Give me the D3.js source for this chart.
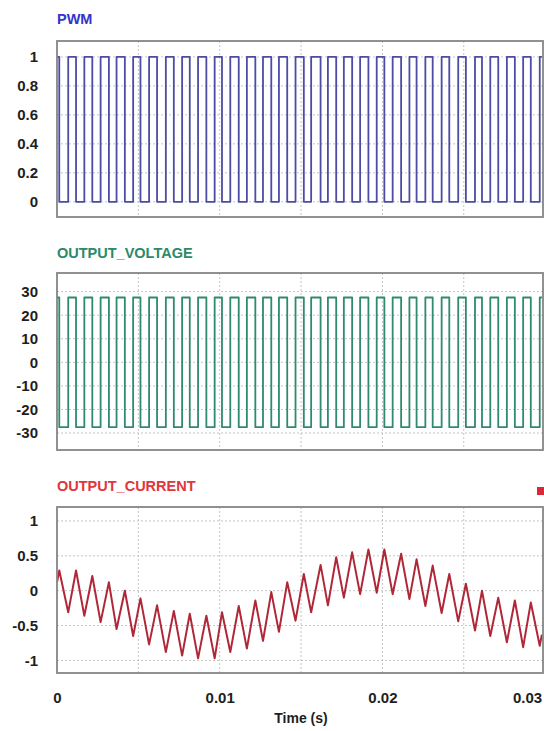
<!DOCTYPE html>
<html>
<head>
<meta charset="utf-8">
<script src="https://cdn.jsdelivr.net/npm/d3@7"></script>
<style>
  body { margin: 0; background: #fff; }
  svg { display: block; font-family: "Liberation Sans", Arial, sans-serif; }
</style>
</head>
<body>
<div id="chart"></div>
<script>
const timeMs = [0, 0.14, 0.69, 1.17, 1.68, 2.17, 2.68, 3.19, 3.66, 4.17, 4.68, 5.13, 5.66, 6.15,
  6.69, 7.18, 7.69, 8.16, 8.67, 9.18, 9.69, 10.14, 10.65, 11.17, 11.67, 12.19, 12.66, 13.17,
  13.64, 14.15, 14.66, 15.17, 15.62, 16.2, 16.65, 17.16, 17.63, 18.14, 18.63, 19.14, 19.65,
  20.12, 20.63, 21.15, 21.66, 22.1, 22.64, 23.09, 23.64, 24.11, 24.66, 25.13, 25.69, 26.12,
  26.63, 27.12, 27.65, 28.14, 28.65, 29.12, 29.67, 29.8];

// PWM state from each instant until the next one
const pwmState = [1, 0, 1, 0, 1, 0, 1, 0, 1, 0, 1, 0, 1, 0, 1, 0, 1, 0, 1, 0, 1, 0, 1, 0, 1, 0,
  1, 0, 1, 0, 1, 0, 1, 0, 1, 0, 1, 0, 1, 0, 1, 0, 1, 0, 1, 0, 1, 0, 1, 0, 1, 0, 1, 0, 1, 0, 1, 0,
  1, 0, 1, 1];

// output voltage levels for PWM off / on
const voltageLevels = [-27.5, 27.5];

// output current at each instant (A)
const currentVals = [0.12, 0.29, -0.31, 0.29, -0.36, 0.21, -0.45, 0.12, -0.55, 0.0, -0.65, -0.11,
  -0.77, -0.21, -0.88, -0.29, -0.93, -0.33, -0.97, -0.36, -0.97, -0.31, -0.88, -0.22, -0.83,
  -0.14, -0.72, -0.02, -0.59, 0.12, -0.43, 0.24, -0.31, 0.37, -0.21, 0.48, -0.1, 0.55, -0.05,
  0.59, -0.03, 0.59, -0.05, 0.53, -0.12, 0.45, -0.22, 0.36, -0.32, 0.24, -0.44, 0.1, -0.57, 0.0,
  -0.65, -0.1, -0.74, -0.14, -0.81, -0.17, -0.79, -0.63];

const pwmTicks = [0, 0.2, 0.4, 0.6, 0.8, 1];
const voltTicks = [-30, -20, -10, 0, 10, 20, 30];
const currTicks = [-1, -0.5, 0, 0.5, 1];
const timeTicks = [0, 0.01, 0.02, 0.03];
const timeGrid = [0.005, 0.01, 0.015, 0.02, 0.025];

const W = 544, H = 731;
const left = 57, right = 543;

const svg = d3.select("#chart").append("svg")
  .attr("width", W)
  .attr("height", H);

const x = d3.scaleLinear().domain([0, 0.02987]).range([left, right]);

const stepData = (vals) => {
  // hold each value until the next instant
  const pts = [];
  timeMs.forEach((t, i) => {
    pts.push([t / 1000, vals[i]]);
    if (i < timeMs.length - 1) pts.push([timeMs[i + 1] / 1000, vals[i]]);
  });
  return pts;
};

const panels = [
  { id: "pwm", title: "PWM", titleColor: "#3434cc", lineColor: "#4c4ca4", lineWidth: 1.8,
    top: 41, bottom: 217, domain: [-0.105, 1.11], ticks: pwmTicks, titleY: 23.5,
    data: stepData(pwmState) },
  { id: "volt", title: "OUTPUT_VOLTAGE", titleColor: "#2b8a68", lineColor: "#2f8a70", lineWidth: 1.8,
    top: 273, bottom: 450, domain: [-37.2, 37.9], ticks: voltTicks, titleY: 258,
    data: stepData(pwmState.map(s => voltageLevels[s])) },
  { id: "curr", title: "OUTPUT_CURRENT", titleColor: "#e0363c", lineColor: "#b02838", lineWidth: 2,
    top: 507, bottom: 673, domain: [-1.18, 1.2], ticks: currTicks, titleY: 491,
    data: timeMs.map((t, i) => [t / 1000, currentVals[i]]) }
];

panels.forEach(p => {
  const y = d3.scaleLinear().domain(p.domain).range([p.bottom, p.top]);
  const g = svg.append("g");

  g.append("clipPath").attr("id", "clip-" + p.id)
    .append("rect")
    .attr("x", left).attr("y", p.top)
    .attr("width", right - left).attr("height", p.bottom - p.top);

  // grid
  g.selectAll(".hgrid").data(p.ticks).join("line")
    .attr("x1", left).attr("x2", right)
    .attr("y1", d => y(d)).attr("y2", d => y(d))
    .attr("stroke", "#c4c4c4").attr("stroke-dasharray", "2,2");
  g.selectAll(".vgrid").data(timeGrid).join("line")
    .attr("x1", d => x(d)).attr("x2", d => x(d))
    .attr("y1", p.top).attr("y2", p.bottom)
    .attr("stroke", "#c4c4c4").attr("stroke-dasharray", "2,2");

  // waveform
  g.append("path")
    .datum(p.data)
    .attr("clip-path", `url(#clip-${p.id})`)
    .attr("fill", "none")
    .attr("stroke", p.lineColor)
    .attr("stroke-width", p.lineWidth)
    .attr("stroke-linejoin", "round")
    .attr("d", d3.line().x(d => x(d[0])).y(d => y(d[1])));

  // frame
  g.append("rect")
    .attr("x", left).attr("y", p.top)
    .attr("width", right - left).attr("height", p.bottom - p.top)
    .attr("fill", "none").attr("stroke", "#858585").attr("stroke-width", 1.8);

  // y axis labels
  const yAxis = g.append("g")
    .attr("transform", `translate(${left},0)`)
    .call(d3.axisLeft(y).tickValues(p.ticks).tickSize(0).tickPadding(19).tickFormat(d => String(d)));
  yAxis.select(".domain").remove();
  yAxis.selectAll("text")
    .attr("font-size", 15).attr("font-weight", "bold").attr("fill", "#1e1e1e")
    .attr("font-family", "Liberation Sans, Arial, sans-serif");

  g.append("text")
    .attr("x", left).attr("y", p.titleY)
    .attr("font-size", 14.5).attr("font-weight", "bold")
    .attr("fill", p.titleColor)
    .text(p.title);

  if (p.id === "curr") {
    const xAxis = g.append("g")
      .attr("transform", `translate(0,${p.bottom})`)
      .call(d3.axisBottom(x).tickValues(timeTicks).tickSize(0).tickPadding(19).tickFormat(d => String(d)));
    xAxis.select(".domain").remove();
    xAxis.selectAll("text")
      .attr("font-size", 15).attr("font-weight", "bold").attr("fill", "#1e1e1e")
      .attr("font-family", "Liberation Sans, Arial, sans-serif")
      .attr("dx", d => d === 0.03 ? -18 : 0);

    g.append("text")
      .attr("x", (left + right) / 2 + 1).attr("y", 723)
      .attr("text-anchor", "middle")
      .attr("font-size", 14).attr("font-weight", "bold").attr("fill", "#1e1e1e")
      .text("Time (s)");

    // legend marker
    g.append("rect")
      .attr("x", 537).attr("y", 487).attr("width", 8).attr("height", 8)
      .attr("fill", "#d8283a");
  }
});
</script>
</body>
</html>
